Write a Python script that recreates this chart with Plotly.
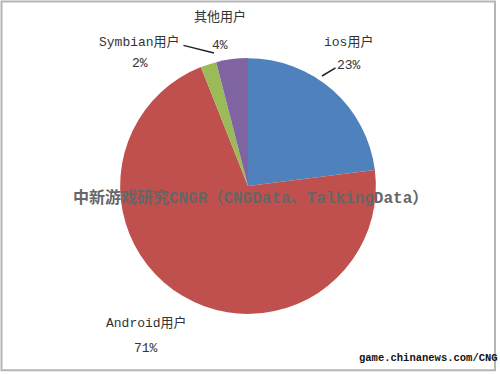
import plotly.graph_objects as go

labels = ["ios用户", "Android用户", "Symbian用户", "其他用户"]
values = [23, 71, 2, 4]
colors = ["#4F81BD", "#C0504D", "#9BBB59", "#8064A2"]
pct_text = ["23%", "71%", "2%", "4%"]

font_fam = "Liberation Mono, Noto Sans CJK SC, monospace"

fig = go.Figure(go.Pie(
    labels=labels, values=values, sort=False, direction="clockwise", rotation=0,
    marker=dict(colors=colors, line=dict(color="white", width=0)),
    textinfo="none", hoverinfo="label+percent", showlegend=False,
    domain=dict(x=[0.24, 0.752], y=[0.163, 0.845]),
))

W, H = 500, 375
def px(x, y):
    return x / W, 1 - y / H

ann = []
label_pos = {
    "ios用户": (348, 42, 349, 65),
    "Android用户": (146, 323, 146, 348),
    "Symbian用户": (139, 42, 140, 64),
    "其他用户": (220, 17, 220, 45),
}
for i, lab in enumerate(labels):
    lx, ly, vx, vy = label_pos[lab]
    x, y = px(lx, ly)
    ann.append(dict(x=x, y=y, xref="paper", yref="paper", text=lab, showarrow=False,
                    xanchor="center", yanchor="middle",
                    font=dict(family=font_fam, size=13, color="#333")))
    x, y = px(vx, vy)
    ann.append(dict(x=x, y=y, xref="paper", yref="paper", text=pct_text[i], showarrow=False,
                    xanchor="center", yanchor="middle",
                    font=dict(family=font_fam, size=13, color="#333")))

# leader lines (head, tail)
for (x0, y0, x1, y1) in [(322, 76, 337, 67), (214, 53, 182, 45)]:
    a0 = px(x0, y0)
    ann.append(dict(x=a0[0], y=a0[1], ax=x1 - x0, ay=y1 - y0, xref="paper", yref="paper",
                    axref="pixel", ayref="pixel", text="", showarrow=True, arrowhead=0,
                    arrowwidth=1.5, arrowcolor="#222", standoff=0, startstandoff=0))

x, y = px(250, 198)
ann.append(dict(x=x, y=y, xref="paper", yref="paper",
                text="<b>中新游戏研究CNGR（CNGData、TalkingData）</b>", showarrow=False,
                xanchor="center", yanchor="middle",
                font=dict(family=font_fam, size=16, color="#666666")))
x, y = px(428, 358)
ann.append(dict(x=x, y=y, xref="paper", yref="paper",
                text="<b>game.chinanews.com/CNG</b>", showarrow=False,
                xanchor="center", yanchor="middle",
                font=dict(family=font_fam, size=10.5, color="#111")))

fig.update_layout(
    width=W, height=H, margin=dict(l=0, r=0, t=0, b=0),
    paper_bgcolor="white", plot_bgcolor="white",
    annotations=ann,
    shapes=[dict(type="rect", xref="paper", yref="paper", x0=0.003, y0=0.013, x1=0.99, y1=0.996,
                 line=dict(color="#b5b5b5", width=2))],
)
fig.write_html("out.html")
